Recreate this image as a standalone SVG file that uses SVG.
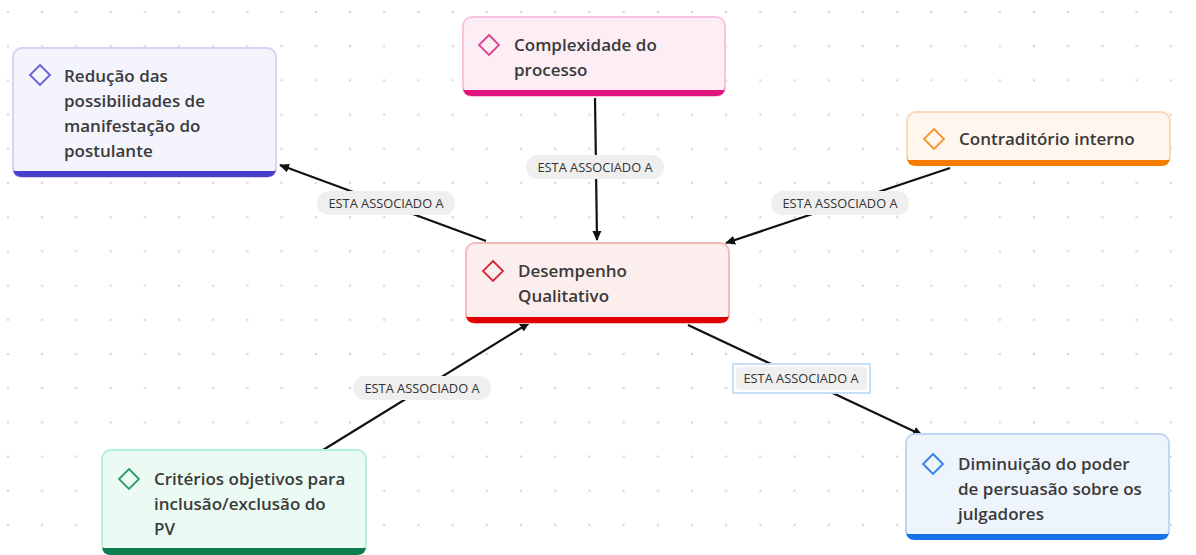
<svg xmlns="http://www.w3.org/2000/svg" width="1196" height="555" viewBox="0 0 1196 555">
  <defs>
    <pattern id="dots" x="8" y="12" width="34.2" height="34.2" patternUnits="userSpaceOnUse">
      <circle cx="0" cy="0" r="1.3" fill="#d9d9d9"/>
      <circle cx="34.2" cy="0" r="1.3" fill="#d9d9d9"/>
      <circle cx="0" cy="34.2" r="1.3" fill="#d9d9d9"/>
      <circle cx="34.2" cy="34.2" r="1.3" fill="#d9d9d9"/>
    </pattern>
    <marker id="arrow" viewBox="0 0 10 10" refX="9" refY="5" markerWidth="10" markerHeight="10" markerUnits="userSpaceOnUse" orient="auto">
      <path d="M0,0.5 L10,5 L0,9.5 Z" fill="#111"/>
    </marker>
    <style>
      .label { font-family: "Open Sans", "Noto Sans", sans-serif; font-size: 17px; font-weight: 600; fill: #3a3a3a; }
      .edge { stroke: #111; stroke-width: 2.2; fill: none; marker-end: url(#arrow); }
      .pill { fill: #efefef; }
      .etext { font-family: "Open Sans", "Noto Sans", sans-serif; font-size: 12.8px; fill: #333; text-anchor: middle; }
      .box { stroke-width: 2; }
      .icon { fill: none; stroke-width: 1.8; }
    </style>
  </defs>

  <rect width="1196" height="555" fill="#ffffff"/>
  <rect width="1196" height="555" fill="url(#dots)"/>

  <!-- connectors -->
  <g id="connectors">
    <line class="edge" x1="486" y1="241" x2="280" y2="165"/>
    <line class="edge" x1="595" y1="98" x2="597" y2="240"/>
    <line class="edge" x1="950" y1="168" x2="726" y2="243"/>
    <line class="edge" x1="323" y1="450" x2="529" y2="323"/>
    <line class="edge" x1="688" y1="325" x2="922" y2="435"/>

    <rect class="pill" x="317" y="191" width="138" height="24" rx="12"/>
    <text class="etext" x="386" y="207.5">ESTA ASSOCIADO A</text>

    <rect class="pill" x="526" y="155" width="138" height="24" rx="12"/>
    <text class="etext" x="595" y="171.5">ESTA ASSOCIADO A</text>

    <rect class="pill" x="771" y="191" width="138" height="24" rx="12"/>
    <text class="etext" x="840" y="207.5">ESTA ASSOCIADO A</text>

    <rect class="pill" x="353" y="376" width="138" height="24" rx="12"/>
    <text class="etext" x="422" y="392.5">ESTA ASSOCIADO A</text>

    <rect x="733" y="364" width="137" height="29" fill="#ffffff" stroke="#c2ddf5" stroke-width="1.8"/>
    <rect class="pill" x="736" y="367" width="131" height="23" rx="4"/>
    <text class="etext" x="801" y="382.5">ESTA ASSOCIADO A</text>
  </g>

  <!-- Redução das possibilidades -->
  <g id="node-reducao">
    <rect class="box" x="13" y="48" width="263" height="129" rx="9" fill="#f4f4fc" stroke="#d6d4f3"/>
    <path d="M13,171 L276,171 L276,168 Q276,177 267,177 L22,177 Q13,177 13,168 Z" fill="#4a3fcc"/>
    <path class="icon" d="M40,65 L50,75 L40,85 L30,75 Z" stroke="#6a5ed6"/>
    <text class="label" x="64" y="82">Redução das</text>
    <text class="label" x="64" y="107">possibilidades de</text>
    <text class="label" x="64" y="132">manifestação do</text>
    <text class="label" x="64" y="157">postulante</text>
  </g>

  <!-- Complexidade do processo -->
  <g id="node-complexidade">
    <rect class="box" x="463" y="17" width="262" height="79" rx="9" fill="#fdeef6" stroke="#f8c2e1"/>
    <path d="M463,90 L725,90 L725,87 Q725,96 716,96 L472,96 Q463,96 463,87 Z" fill="#e0157e"/>
    <path class="icon" d="M489,35 L499,45 L489,55 L479,45 Z" stroke="#e0408f"/>
    <text class="label" x="514" y="51">Complexidade do</text>
    <text class="label" x="514" y="76">processo</text>
  </g>

  <!-- Contraditório interno -->
  <g id="node-contraditorio">
    <rect class="box" x="907" y="112" width="263" height="53" rx="9" fill="#fff6ee" stroke="#fcd8bb"/>
    <path d="M907,160 L1170,160 L1170,157 Q1170,166 1161,166 L916,166 Q907,166 907,157 Z" fill="#f57c00"/>
    <path class="icon" d="M934,129 L944,139 L934,149 L924,139 Z" stroke="#f5952f"/>
    <text class="label" x="959" y="145">Contraditório interno</text>
  </g>

  <!-- Desempenho Qualitativo -->
  <g id="node-desempenho">
    <rect class="box" x="466" y="243" width="263" height="80" rx="9" fill="#fdeeee" stroke="#f6baba"/>
    <path d="M466,317 L729,317 L729,314 Q729,323 720,323 L475,323 Q466,323 466,314 Z" fill="#e00000"/>
    <path class="icon" d="M493,261 L503,271 L493,281 L483,271 Z" stroke="#d6283a"/>
    <text class="label" x="518" y="277">Desempenho</text>
    <text class="label" x="518" y="302">Qualitativo</text>
  </g>

  <!-- Critérios objetivos -->
  <g id="node-criterios">
    <rect class="box" x="102" y="450" width="264" height="103" rx="9" fill="#ebfbf4" stroke="#b5f0d9"/>
    <path d="M102,548 L366,548 L366,546 Q366,555 357,555 L111,555 Q102,555 102,546 Z" fill="#0b7d4f"/>
    <path class="icon" d="M129,469 L139,479 L129,489 L119,479 Z" stroke="#2f9a6a"/>
    <text class="label" x="154" y="485">Critérios objetivos para</text>
    <text class="label" x="154" y="510">inclusão/exclusão do</text>
    <text class="label" x="154" y="535">PV</text>
  </g>

  <!-- Diminuição do poder de persuasão -->
  <g id="node-diminuicao">
    <rect class="box" x="906" y="434" width="263" height="105" rx="9" fill="#eef4fc" stroke="#bed7f5"/>
    <path d="M906,534 L1169,534 L1169,531 Q1169,540 1160,540 L915,540 Q906,540 906,531 Z" fill="#1672e8"/>
    <path class="icon" d="M933,454 L943,464 L933,474 L923,464 Z" stroke="#2e7fe8"/>
    <text class="label" x="958" y="470">Diminuição do poder</text>
    <text class="label" x="958" y="495">de persuasão sobre os</text>
    <text class="label" x="958" y="520">julgadores</text>
  </g>
</svg>
